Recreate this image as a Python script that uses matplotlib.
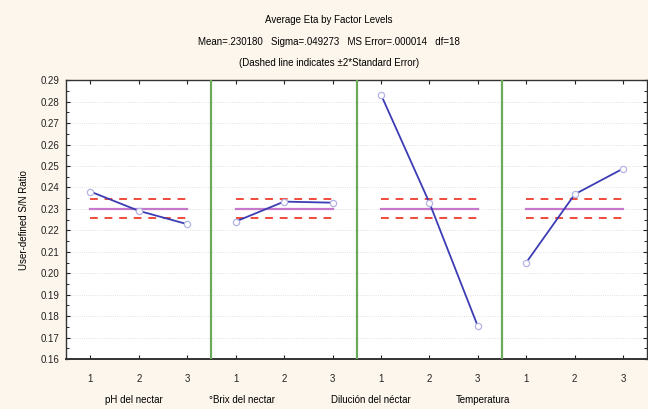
import matplotlib.pyplot as plt
import numpy as np

plt.rcParams['font.family'] = ['Liberation Sans', 'DejaVu Sans']

# data
factors = ['pH del nectar', '°Brix del nectar', 'Dilución del néctar', 'Temperatura']
levels = ['1', '2', '3']
ph_vals = [0.2381, 0.2291, 0.2229]
brix_vals = [0.2241, 0.2334, 0.2329]
dil_vals = [0.2833, 0.2329, 0.1753]
temp_vals = [0.2050, 0.2368, 0.2488]
mean_eta = 0.230180
two_se = 0.0044

series = [ph_vals, brix_vals, dil_vals, temp_vals]

bg = '#fdf6ec'
fig = plt.figure(figsize=(6.48, 4.09), dpi=100, facecolor=bg)
ax = fig.add_axes([0.102, 0.122, 0.897, 0.682])
ax.set_facecolor('white')

for i, vals in enumerate(series):
    x = np.arange(1, 4) + 3 * i
    # mean and +-2 SE lines
    ax.plot([x[0], x[-1]], [mean_eta, mean_eta], color='#c878cc', lw=1.6, zorder=2)
    ax.plot([x[0], x[-1]], [mean_eta + two_se] * 2, color='#f04a3a', lw=1.4,
            dashes=(4, 3.5), zorder=2)
    ax.plot([x[0], x[-1]], [mean_eta - two_se] * 2, color='#f04a3a', lw=1.4,
            dashes=(4, 3.5), zorder=2)
    ax.plot(x, vals, color='#3c3cb4', lw=1.3, marker='o', ms=4.5,
            mfc='white', mec='#b4b4e4', mew=0.9, zorder=3)
    if i > 0:
        ax.axvline(3 * i + 0.5, color='#6aaa5a', lw=1.6, zorder=4)

ax.set_xlim(0.5, 12.5)
ax.set_ylim(0.16, 0.29)
ax.set_xticks(np.arange(1, 13))
ax.set_xticklabels(levels * 4)
ax.set_yticks(np.arange(0.16, 0.2901, 0.01))
ax.set_yticklabels(['%.2f' % v for v in np.arange(0.16, 0.2901, 0.01)])
ax.set_yticks(np.arange(0.165, 0.29, 0.01), minor=True)
ax.tick_params(axis='both', labelsize=7, direction='in', length=3, width=0.8,
               top=True, right=True, colors='#222222')
ax.tick_params(axis='x', pad=11)
ax.tick_params(axis='y', pad=5)
ax.tick_params(axis='y', which='minor', direction='in', length=2, right=True)
ax.grid(axis='y', color='#d8d8d8', ls=':', lw=0.6)
for s in ax.spines.values():
    s.set_color('#333333')
    s.set_linewidth(1.0)
ax.spines['bottom'].set_linewidth(1.4)

ax.set_ylabel('User-defined S/N Ratio', fontsize=7, labelpad=8)

# titles
fig.text(0.508, 0.952, 'Average Eta by Factor Levels', ha='center', va='center', fontsize=7)
fig.text(0.508, 0.898, 'Mean=.230180   Sigma=.049273   MS Error=.000014   df=18',
         ha='center', va='center', fontsize=7)
fig.text(0.508, 0.846, '(Dashed line indicates \u00b12*Standard Error)',
         ha='center', va='center', fontsize=7)

# factor names under the levels
label_x = [134, 242, 371, 483]
for name, px in zip(factors, label_x):
    fig.text(px / 648, 1 - 400 / 409, name, ha='center', va='center', fontsize=7)

fig.savefig('out.png', dpi=100, facecolor=bg)
